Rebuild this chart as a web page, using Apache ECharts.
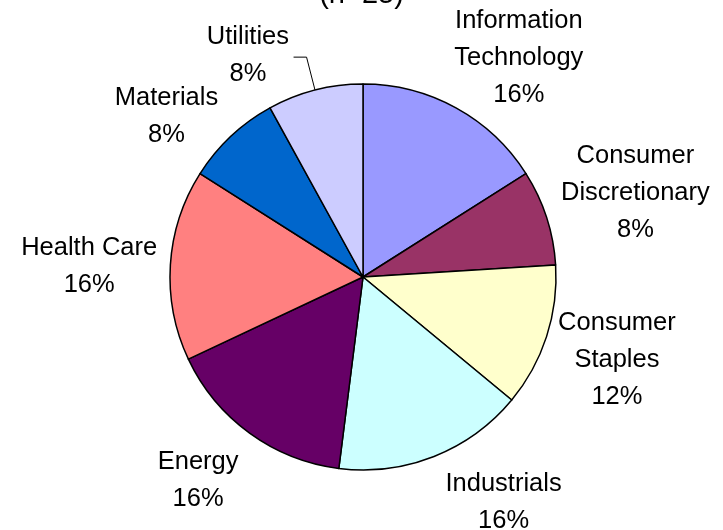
<!DOCTYPE html>
<html>
<head>
<meta charset="utf-8">
<script src="https://cdn.jsdelivr.net/npm/echarts@6/dist/echarts.min.js"></script>
<style>
  html, body { margin: 0; padding: 0; background: #fff; }
  #chart { width: 723px; height: 530px; }
</style>
</head>
<body>
<div id="chart"></div>
<script>
// Sector counts (n = 25 holdings)
const categories = [
  'Information\nTechnology',
  'Consumer\nDiscretionary',
  'Consumer\nStaples',
  'Industrials',
  'Energy',
  'Health Care',
  'Materials',
  'Utilities'
];
const counts = [4, 2, 3, 4, 4, 4, 2, 2];
const sliceColors = ['#9999FF', '#993366', '#FFFFCC', '#CCFFFF', '#660066', '#FF8080', '#0066CC', '#CCCCFF'];
const subtitle = '(n=25)';

// Label placement: distance beyond the rim (px) and angular nudge (deg) from each slice's mid-angle
const labelGap = [76, 92, 74, 73, 69, 81, 61, 57];
const labelShift = [6.6, 0.9, 0, -10.3, 3, -1.5, -7.5, -13];
const leaderIndex = 7;

const FONT = "'Liberation Sans', Arial, sans-serif";
const chart = echarts.init(document.getElementById('chart'), null, { renderer: 'canvas' });

function sliceGeom(i) {
  const data = chart.getModel().getSeriesByIndex(0).getData();
  const l = data.getItemLayout(i);
  return { cx: l.cx, cy: l.cy, r: l.r, mid: (l.startAngle + l.endAngle) / 2 };
}

chart.setOption({
  animation: false,
  backgroundColor: '#ffffff',
  title: {
    text: subtitle,
    left: 'center',
    top: -25,
    textStyle: { fontFamily: FONT, fontSize: 29, fontWeight: 'normal', color: '#000', lineHeight: 29 }
  },
  series: [{
    type: 'pie',
    center: [363, 277],
    radius: 193,
    startAngle: 90,
    clockwise: true,
    avoidLabelOverlap: false,
    data: categories.map((name, i) => ({
      name: name,
      value: counts[i],
      itemStyle: { color: sliceColors[i] },
      labelLine: { show: i === leaderIndex }
    })),
    itemStyle: { borderColor: '#000', borderWidth: 1.5 },
    emphasis: { disabled: true },
    label: {
      show: true,
      position: 'outside',
      formatter: p => p.name + '\n' + Math.round(p.percent) + '%',
      fontFamily: FONT,
      fontSize: 25.5,
      lineHeight: 37,
      color: '#000',
      align: 'center'
    },
    labelLine: {
      show: false,
      lineStyle: { color: '#000', width: 1 }
    },
    labelLayout: function (params) {
      const i = params.dataIndex;
      const g = sliceGeom(i);
      const a = g.mid + labelShift[i] * Math.PI / 180;
      const d = g.r + labelGap[i];
      const out = {
        x: g.cx + d * Math.cos(a),
        y: g.cy + d * Math.sin(a),
        align: 'center',
        verticalAlign: 'middle'
      };
      if (i === leaderIndex) {
        const p0 = [g.cx + g.r * Math.cos(g.mid), g.cy + g.r * Math.sin(g.mid)];
        const p1 = [g.cx + (g.r + 34) * Math.cos(g.mid), g.cy + (g.r + 34) * Math.sin(g.mid)];
        const p2 = [p1[0] - 13, p1[1]];
        out.labelLinePoints = [p0, p1, p2];
      }
      return out;
    }
  }]
});
</script>
</body>
</html>
